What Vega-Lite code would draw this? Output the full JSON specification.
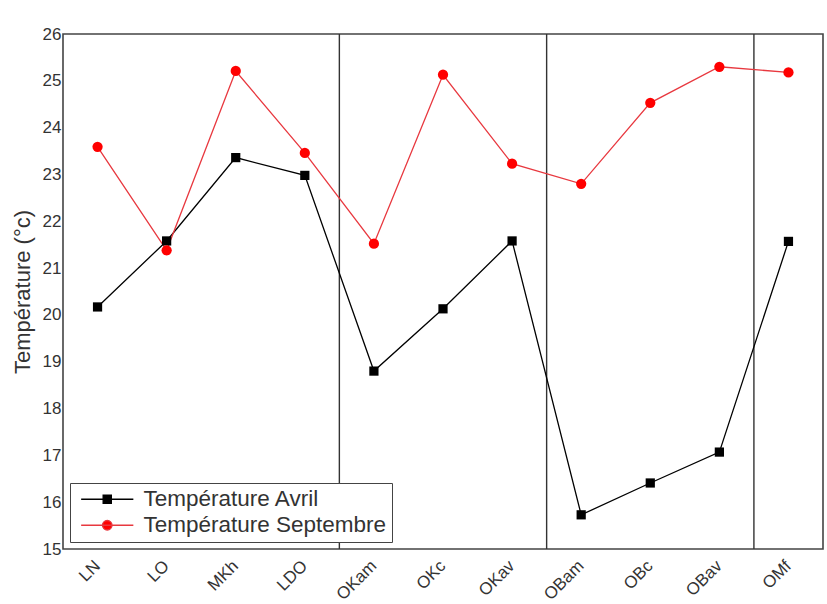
{
  "$schema": "https://vega.github.io/schema/vega-lite/v6.json",
  "width": 760,
  "height": 515,
  "autosize": {"type": "none"},
  "padding": {"left": 63, "top": 34, "right": 4, "bottom": 55},
  "background": "white",
  "config": {
    "font": "Liberation Sans",
    "view": {"stroke": "#444444", "strokeWidth": 1.6},
    "axis": {"labelColor": "#333333", "titleColor": "#333333", "domain": false, "grid": false}
  },
  "datasets": {
    "temps": [
      {"site": "LN", "series": "Température Avril", "temp": 20.17},
      {"site": "LO", "series": "Température Avril", "temp": 21.58},
      {"site": "MKh", "series": "Température Avril", "temp": 23.36},
      {"site": "LDO", "series": "Température Avril", "temp": 22.98},
      {"site": "OKam", "series": "Température Avril", "temp": 18.8},
      {"site": "OKc", "series": "Température Avril", "temp": 20.13},
      {"site": "OKav", "series": "Température Avril", "temp": 21.58},
      {"site": "OBam", "series": "Température Avril", "temp": 15.73},
      {"site": "OBc", "series": "Température Avril", "temp": 16.41},
      {"site": "OBav", "series": "Température Avril", "temp": 17.07},
      {"site": "OMf", "series": "Température Avril", "temp": 21.57},
      {"site": "LN", "series": "Température Septembre", "temp": 23.59},
      {"site": "LO", "series": "Température Septembre", "temp": 21.38},
      {"site": "MKh", "series": "Température Septembre", "temp": 25.21},
      {"site": "LDO", "series": "Température Septembre", "temp": 23.46},
      {"site": "OKam", "series": "Température Septembre", "temp": 21.52},
      {"site": "OKc", "series": "Température Septembre", "temp": 25.13},
      {"site": "OKav", "series": "Température Septembre", "temp": 23.23},
      {"site": "OBam", "series": "Température Septembre", "temp": 22.8},
      {"site": "OBc", "series": "Température Septembre", "temp": 24.53},
      {"site": "OBav", "series": "Température Septembre", "temp": 25.3},
      {"site": "OMf", "series": "Température Septembre", "temp": 25.18}
    ],
    "zones": [
      {"site": "OKam"},
      {"site": "OBam"},
      {"site": "OMf"}
    ]
  },
  "layer": [
    {
      "data": {"name": "zones"},
      "mark": {"type": "rule", "color": "#333333", "strokeWidth": 1.4},
      "encoding": {
        "x": {"field": "site", "type": "nominal", "bandPosition": 0}
      }
    },
    {
      "data": {"name": "temps"},
      "mark": {"type": "line", "strokeWidth": 1.3},
      "encoding": {
        "x": {
          "field": "site",
          "type": "nominal",
          "bandPosition": 0.5,
          "sort": ["LN", "LO", "MKh", "LDO", "OKam", "OKc", "OKav", "OBam", "OBc", "OBav", "OMf"],
          "scale": {
            "type": "band",
            "paddingInner": 0,
            "paddingOuter": 0,
            "domain": ["LN", "LO", "MKh", "LDO", "OKam", "OKc", "OKav", "OBam", "OBc", "OBav", "OMf"]
          },
          "axis": {
            "title": null,
            "labelAngle": -45,
            "labelAlign": "right",
            "labelBaseline": "middle",
            "labelFontSize": 17,
            "labelPadding": 14,
            "ticks": false
          }
        },
        "y": {
          "field": "temp",
          "type": "quantitative",
          "scale": {"domain": [15, 26], "nice": false, "zero": false},
          "axis": {
            "title": "Température (°c)",
            "titleFontSize": 22,
            "titleFontWeight": "normal",
            "titlePadding": 8,
            "values": [15, 16, 17, 18, 19, 20, 21, 22, 23, 24, 25, 26],
            "labelFontSize": 17,
            "labelPadding": 2,
            "ticks": false
          }
        },
        "detail": {"field": "series", "type": "nominal"},
        "stroke": {
          "field": "series",
          "type": "nominal",
          "scale": {"domain": ["Température Avril", "Température Septembre"], "range": ["#000000", "#e8383f"]},
          "legend": {
            "title": null,
            "orient": "bottom-left",
            "offset": 7,
            "padding": 5,
            "strokeColor": "#444444",
            "fillColor": "white",
            "symbolSize": 81,
            "symbolStrokeWidth": 1.4,
            "symbolOffset": 21,
            "labelOffset": 25,
            "labelFontSize": 22.5,
            "labelLimit": 400,
            "labelColor": "#333333",
            "rowPadding": 3,
            "encode": {
              "symbols": {
                "update": {
                  "shape": {"signal": "datum.value === 'Température Avril' ? 'M-5.8,0H5.8M-0.9,-0.9H0.9V0.9H-0.9Z' : 'M-5.8,0H5.8M1.05,0A1.05,1.05 0 1,1 -1.05,0A1.05,1.05 0 1,1 1.05,0Z'"},
                  "fill": {"signal": "datum.value === 'Température Avril' ? '#000000' : '#ff0000'"},
                  "size": {"value": 81},
                  "opacity": {"value": 1}
                }
              }
            }
          }
        }
      }
    },
    {
      "data": {"name": "temps"},
      "transform": [{"filter": "datum.series === 'Température Avril'"}],
      "mark": {"type": "point", "filled": true, "opacity": 1, "size": 85, "shape": "square", "color": "#000000"},
      "encoding": {
        "x": {"field": "site", "type": "nominal", "bandPosition": 0.5},
        "y": {"field": "temp", "type": "quantitative"}
      }
    },
    {
      "data": {"name": "temps"},
      "transform": [{"filter": "datum.series === 'Température Septembre'"}],
      "mark": {"type": "point", "filled": true, "opacity": 1, "size": 105, "shape": "circle", "color": "#ff0000"},
      "encoding": {
        "x": {"field": "site", "type": "nominal", "bandPosition": 0.5},
        "y": {"field": "temp", "type": "quantitative"}
      }
    }
  ]
}
